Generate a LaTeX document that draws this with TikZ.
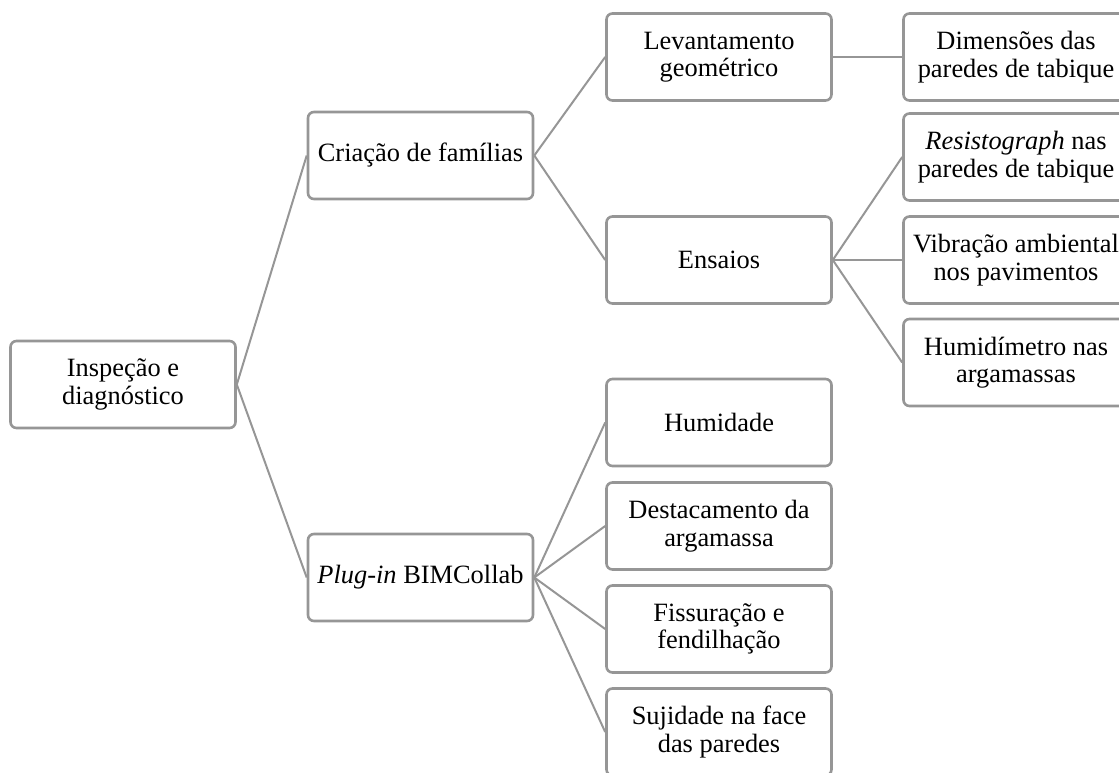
\documentclass[tikz,border=0pt]{standalone}
\usepackage{fontspec}
\setmainfont{Liberation Serif}
\definecolor{boxgray}{RGB}{150,150,150}
\begin{document}
\begin{tikzpicture}[x=1pt,y=-1pt,
  box/.style={draw=boxgray, line width=2.6pt, rounded corners=6pt, fill=white,
    minimum width=225pt, minimum height=87pt, align=center, inner sep=2pt,
    font=\fontsize{26.4}{27.5}\selectfont},
  conn/.style={draw=boxgray, line width=2pt}]
\useasboundingbox (0,0) rectangle (1119,772);
% nodes
\node[box] (root) at (123,384.5) {Inspeção e\\diagnóstico};
\node[box] (cria) at (420.5,155.5) {Criação de famílias};
\node[box] (plug) at (420.5,577.5) {\textit{Plug-in} BIMCollab};
\node[box] (lev) at (719,57) {Levantamento\\geométrico};
\node[box] (ens) at (719,260) {Ensaios};
\node[box] (dim) at (1016,57) {Dimensões das\\paredes de tabique};
\node[box] (res) at (1016,157) {\textit{Resistograph} nas\\paredes de tabique};
\node[box] (vib) at (1016,260) {Vibração ambiental\\nos pavimentos};
\node[box] (hmet) at (1016,362.5) {Humidímetro nas\\argamassas};
\node[box] (hum) at (719,422.5) {Humidade};
\node[box] (dest) at (719,526) {Destacamento da\\argamassa};
\node[box] (fis) at (719,629) {Fissuração e\\fendilhação};
\node[box] (suj) at (719,732) {Sujidade na face\\das paredes};
% connectors
\begin{scope}[on background layer/.try]
\end{scope}
\draw[conn] (root.east) -- (cria.west);
\draw[conn] (root.east) -- (plug.west);
\draw[conn] (cria.east) -- (lev.west);
\draw[conn] (cria.east) -- (ens.west);
\draw[conn] (lev.east) -- (dim.west);
\draw[conn] (ens.east) -- (res.west);
\draw[conn] (ens.east) -- (vib.west);
\draw[conn] (ens.east) -- (hmet.west);
\draw[conn] (plug.east) -- (hum.west);
\draw[conn] (plug.east) -- (dest.west);
\draw[conn] (plug.east) -- (fis.west);
\draw[conn] (plug.east) -- (suj.west);
\end{tikzpicture}
\end{document}
